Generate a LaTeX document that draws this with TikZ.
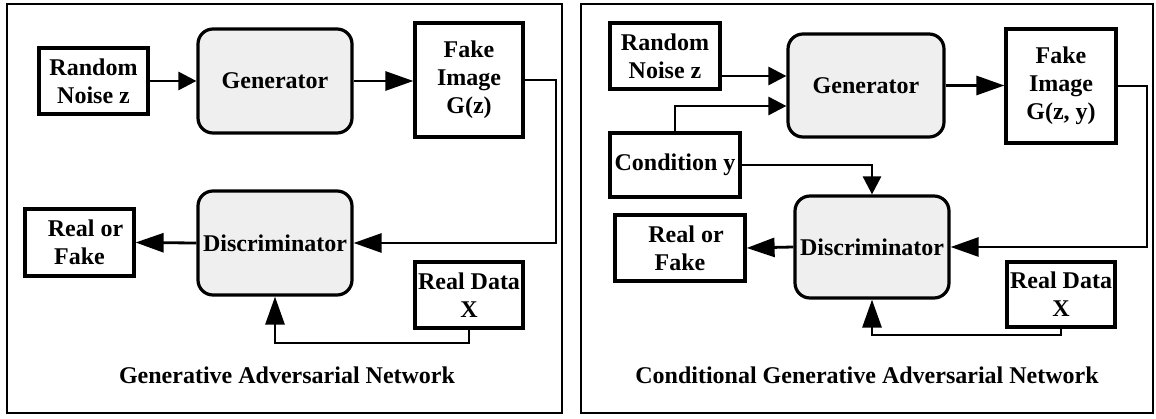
\documentclass[tikz,border=0pt]{standalone}
\usepackage{fontspec}
\setmainfont{Liberation Serif}
\usetikzlibrary{arrows.meta}
\definecolor{netfill}{HTML}{EFEFEF}
\begin{document}
\begin{tikzpicture}[x=1pt,y=-1pt,
  every node/.style={font=\bfseries\fontsize{24}{28}\selectfont, align=center, inner sep=0pt},
  box/.style={draw, line width=3.2pt, rectangle},
  net/.style={draw, line width=3.2pt, rounded corners=15pt, fill=netfill},
  frame/.style={draw, line width=2.8pt},
  link/.style={line width=2.8pt},
  sm/.style={-{Triangle[length=18pt,width=18pt]}},
  lg/.style={-{Triangle[length=28pt,width=19pt]}},
]
\useasboundingbox (0,0) rectangle (1156,419);

% ---------- Generative Adversarial Network ----------
\draw[frame] (7,4) rectangle (562,413);
\node[box, minimum width=109pt, minimum height=66pt] (noiseL) at (93.5,81) {Random\\Noise z};
\node[net, minimum width=154pt, minimum height=104pt] (genL) at (275,81) {Generator};
\node[box, minimum width=108pt, minimum height=114pt] (fakeL) at (469,80) {Fake\\Image\\G(z)};
\node[net, minimum width=154pt, minimum height=104pt] (discL) at (275,243) {Discriminator};
\node[box, minimum width=109pt, minimum height=67pt] (rofL) at (79.5,242.5) {\hspace*{12pt}Real or\\Fake};
\node[box, minimum width=108pt, minimum height=66pt] (realL) at (469,295) {Real Data\\X};
\node (titleL) at (287,375) {Generative Adversarial Network};

\coordinate (cL) at (556,243);
\coordinate (bL) at (469,343);
\draw[link, sm] (noiseL.east) -- (genL.west);
\draw[link, lg] (genL.east) -- (genL.east -| fakeL.west);
\draw[link, lg] (fakeL.east) -| (cL) -- (discL.east);
\draw[link, lg] (realL.south) -- (bL) -| (discL.south);
\draw[link, lg] (discL.west) -- (rofL.east);

% ---------- Conditional Generative Adversarial Network ----------
\draw[frame] (581,4) rectangle (1153,413);
\node[box, minimum width=110pt, minimum height=66pt] (noiseR) at (665,56) {Random\\Noise z};
\node[net, minimum width=156pt, minimum height=103pt] (genR) at (866,85.5) {Generator};
\node[box, minimum width=110pt, minimum height=114pt] (fakeR) at (1061,86) {Fake\\Image\\G(z, y)};
\node[box, minimum width=130pt, minimum height=64pt] (condR) at (675,165) {Condition y};
\node[net, minimum width=154pt, minimum height=102pt] (discR) at (872,247) {Discriminator};
\node[box, minimum width=130pt, minimum height=66pt] (rofR) at (680,248) {\hspace*{12pt}Real or\\Fake};
\node[box, minimum width=108pt, minimum height=65pt] (realR) at (1061,294.5) {Real Data\\X};
\node (titleR) at (867,375) {Conditional Generative Adversarial Network};

\coordinate (nz) at (0,76);
\coordinate (cy) at (0,106);
\coordinate (cR) at (1147,247);
\coordinate (bR) at (1061,335);
\draw[link, sm] (noiseR.east |- nz) -- (genR.west |- nz);
\draw[link, sm] (condR.north) |- (genR.west |- cy);
\draw[link, sm] (condR.east) -| (discR.north);
\draw[link, lg] (genR.east) -- (genR.east -| fakeR.west);
\draw[link, lg] (fakeR.east) -| (cR) -- (discR.east);
\draw[link, lg] (realR.south) -- (bR) -| (discR.south);
\draw[link, lg] (discR.west) -- (rofR.east);
\end{tikzpicture}
\end{document}
